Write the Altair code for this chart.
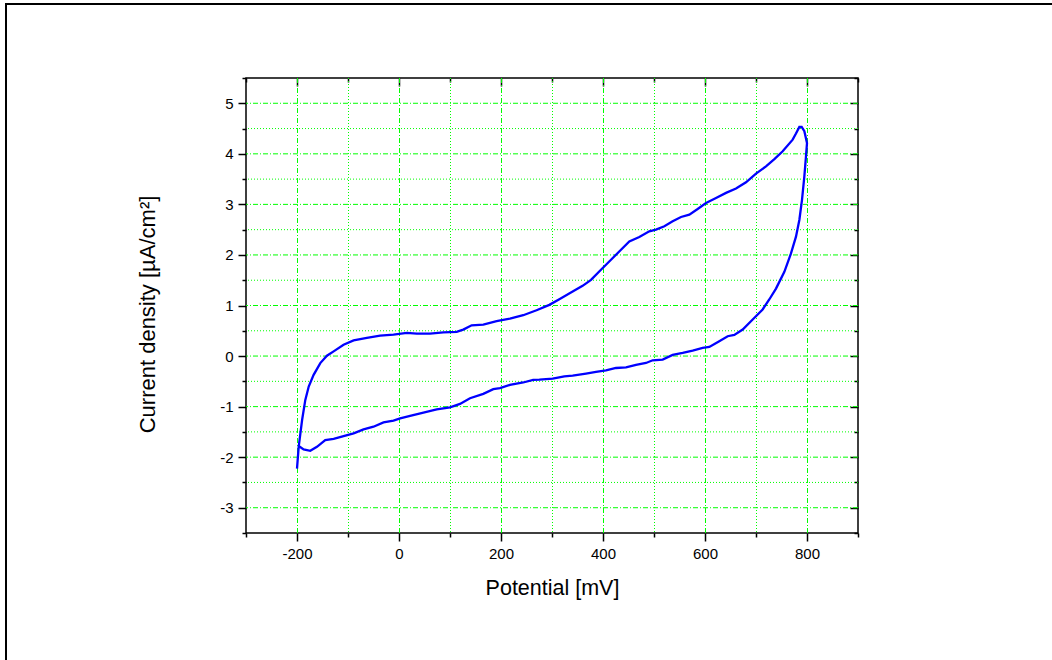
import altair as alt
import pandas as pd

# Cyclic voltammogram: forward (anodic) scan, then reverse scan
fwd_x = [-200, -196.7, -190, -183.7, -177, -167.4, -154.3, -141.3, -128.2, -108.7, -89, -63, -37, -10.8,
         15.3, 34.8, 60.9, 87, 113, 126, 142.5, 165.3, 191.4, 217.5, 243.6, 269.7, 294.8, 314.4, 340.5,
         360, 376.5, 396, 415.7, 435.3, 451.6, 471.2, 490.8, 503.9, 520.3, 536.6, 553, 569.3, 585.6,
         602, 621.6, 641.2, 660.8, 680.4, 700, 719.6, 736, 752.3, 771.9, 778.4, 785, 789.5, 794.8, 800]
fwd_y = [-2.225, -1.795, -1.265, -0.868, -0.603, -0.371, -0.139, 0.007, 0.093, 0.225, 0.311, 0.358, 0.404, 0.424,
         0.457, 0.444, 0.444, 0.470, 0.477, 0.523, 0.609, 0.623, 0.689, 0.742, 0.808, 0.907, 1.013, 1.125, 1.277,
         1.389, 1.508, 1.707, 1.905, 2.103, 2.268, 2.354, 2.467, 2.500, 2.566, 2.665, 2.751, 2.797, 2.909,
         3.028, 3.128, 3.227, 3.313, 3.438, 3.610, 3.752, 3.897, 4.05, 4.281, 4.401, 4.533, 4.533, 4.447, 4.215]
rev_x = [798, 794.8, 790.2, 785, 778.4, 768.6, 755.6, 739.2, 726, 713, 693.5, 673.9, 657.5, 644.5, 628,
         608.5, 595.4, 575.8, 556.2, 536.6, 517, 497.4, 484.3, 464.7, 445.1, 425.5, 405.9, 386.3, 366.7,
         340.5, 324.2, 301.3, 275.2, 263, 243.6, 217.5, 198, 184.9, 165.3, 139.2, 119.6, 100, 74, 47.9,
         21.8, 2.2, -10.8, -30.4, -50, -69.5, -89, -108.7, -128.2, -144.6, -160.9, -174, -187, -198]
rev_y = [3.95, 3.553, 3.09, 2.692, 2.361, 2.03, 1.666, 1.334, 1.119, 0.921, 0.722, 0.524, 0.418, 0.392, 0.293,
         0.180, 0.161, 0.108, 0.061, 0.022, -0.071, -0.084, -0.137, -0.176, -0.223, -0.236, -0.282, -0.315, -0.348,
         -0.388, -0.401, -0.447, -0.467, -0.470, -0.523, -0.570, -0.636, -0.656, -0.748, -0.834, -0.947, -1.013, -1.053, -1.119,
         -1.185, -1.232, -1.278, -1.311, -1.397, -1.450, -1.530, -1.583, -1.636, -1.662, -1.795, -1.874, -1.848, -1.77]

x_ticks = list(range(-300, 1000, 100))
y_ticks = [v / 2 for v in range(-7, 12)]
x_grid_major = [-200, 0, 200, 400, 600, 800]
x_grid_minor = [-100, 100, 300, 500, 700]
y_grid_major = [-3, -2, -1, 0, 1, 2, 3, 4, 5]
y_grid_minor = [-2.5, -1.5, -0.5, 0.5, 1.5, 2.5, 3.5, 4.5]

xs = fwd_x + rev_x
ys = fwd_y + rev_y
df = pd.DataFrame({"x": xs, "y": ys, "i": list(range(len(xs)))})

FONT = "Liberation Sans"
GREEN = "#00ff00"
MINUS = "\u2212"

x_scale = alt.Scale(domain=[-300, 900], nice=False, zero=False)
y_scale = alt.Scale(domain=[-3.5, 5.5], nice=False, zero=False)

x_major = "datum.value % 200 === 0"
y_major = "datum.value % 1 === 0"

x_axis = alt.Axis(
    orient="bottom", values=x_ticks, title="Potential [mV]", domain=False, grid=False,
    tickColor="black", tickWidth=1.5,
    tickSize={"condition": {"test": x_major, "value": 8}, "value": 4},
    labelExpr=f"{x_major} ? replace(format(datum.value, 'd'), '{MINUS}', '-') : ''",
    labelOverlap=False, labelFlush=False, labelPadding=5,
    labelFont=FONT, labelFontSize=15, labelColor="black",
    titleFont=FONT, titleFontSize=21.5, titleFontWeight="normal", titleColor="black", titlePadding=16,
)
y_axis = alt.Axis(
    orient="left", values=y_ticks, title="Current density [µA/cm²]", domain=False, grid=False,
    tickColor="black", tickWidth=1.5,
    tickSize={"condition": {"test": y_major, "value": 8}, "value": 4},
    labelExpr=f"{y_major} ? replace(format(datum.value, 'd'), '{MINUS}', '-') : ''",
    labelOverlap=False, labelFlush=False, labelPadding=5,
    labelFont=FONT, labelFontSize=15, labelColor="black",
    titleFont=FONT, titleFontSize=22, titleFontWeight="normal", titleColor="black", titlePadding=60,
    titleY=236,
)
x_top = alt.Axis(
    orient="top", values=x_ticks, title=None, domain=False, labels=False, grid=False,
    tickColor="black", tickWidth=1.5,
    tickSize={"condition": {"test": x_major, "value": -8}, "value": -4},
)
y_right = alt.Axis(
    orient="right", values=y_ticks, title=None, domain=False, labels=False, grid=False,
    tickColor="black", tickWidth=1.5,
    tickSize={"condition": {"test": y_major, "value": -8}, "value": -4},
)

def vgrid(vals, dash):
    return alt.Chart(pd.DataFrame({"v": vals})).mark_rule(
        color=GREEN, strokeWidth=1, strokeDash=dash, xOffset=0.5
    ).encode(x=alt.X("v:Q", scale=x_scale, axis=None))

def hgrid(vals, dash):
    return alt.Chart(pd.DataFrame({"v": vals})).mark_rule(
        color=GREEN, strokeWidth=1, strokeDash=dash
    ).encode(y=alt.Y("v:Q", scale=y_scale, axis=None))

grids = [
    vgrid(x_grid_minor, [1, 2]), hgrid(y_grid_minor, [1, 2]),
    vgrid(x_grid_major, [5, 2, 1, 2]), hgrid(y_grid_major, [5, 2, 1, 2]),
]

main = alt.Chart(df).mark_line(color="#0000ff", strokeWidth=2.3).encode(
    x=alt.X("x:Q", scale=x_scale, axis=x_axis),
    y=alt.Y("y:Q", scale=y_scale, axis=y_axis),
    order="i:Q",
)
mirror = alt.Chart(df).mark_line(opacity=0).encode(
    x=alt.X("x:Q", scale=x_scale, axis=x_top),
    y=alt.Y("y:Q", scale=y_scale, axis=y_right),
    order="i:Q",
)

frame_df = pd.DataFrame({"k": [0]})
frame_left = alt.Chart(frame_df).mark_rule(color="black", strokeWidth=2).encode(
    x=alt.value(-240), y=alt.value(-74), y2=alt.value(700)
)
frame_top = alt.Chart(frame_df).mark_rule(color="black", strokeWidth=2).encode(
    x=alt.value(-241), x2=alt.value(900), y=alt.value(-74)
)

chart = alt.layer(*grids, main, mirror, frame_left, frame_top).resolve_axis(
    x="independent", y="independent"
).properties(
    width=612, height=455,
    padding={"left": 246, "top": 78, "right": 194, "bottom": 127},
    autosize=alt.AutoSizeParams(type="none"),
    background="white",
).configure_view(stroke="black", strokeWidth=1.5)

chart.save("out.html", embed_options={"renderer": "svg", "actions": False})
